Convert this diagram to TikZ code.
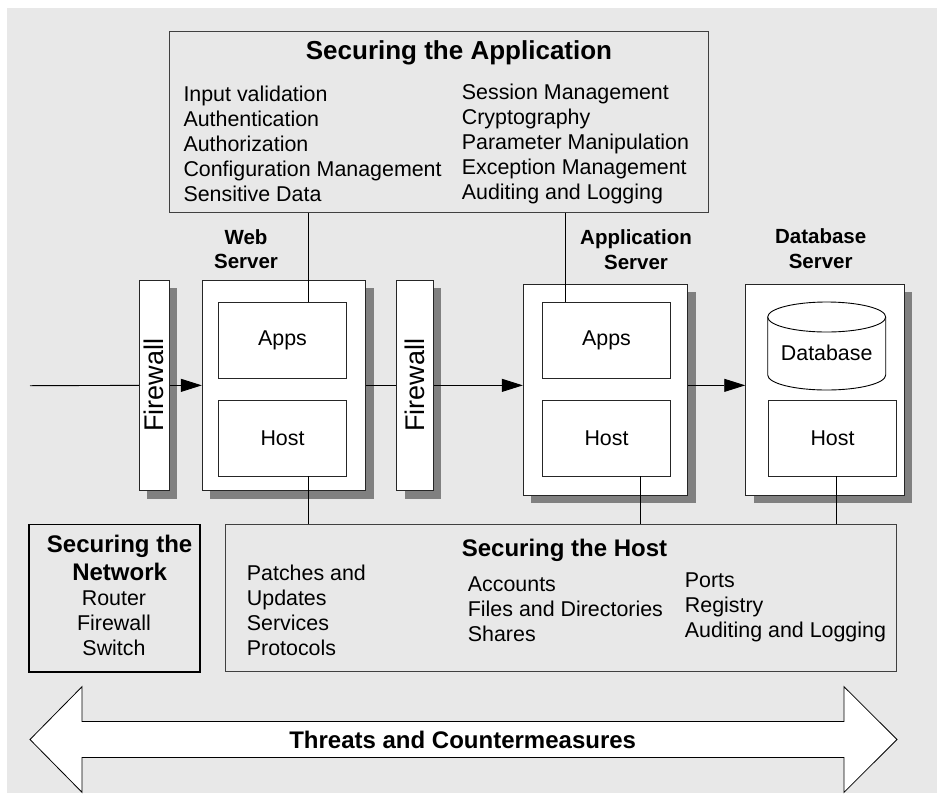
\documentclass[tikz,border=0pt]{standalone}
\usepackage{fontspec}
\setmainfont{Liberation Sans}
\usetikzlibrary{arrows.meta,shadows}
\definecolor{panelgray}{HTML}{E8E8E8}
\definecolor{shadowgray}{HTML}{808080}

\begin{document}
\begin{tikzpicture}[x=1pt, y=-1pt,
    box/.style={draw=black!85, line width=0.9pt, fill=white, inner sep=0pt},
    srvbox/.style={box, drop shadow={shadow xshift=8pt, shadow yshift=-8pt, fill=shadowgray, opacity=1}},
    secbox/.style={draw=black!75, line width=0.9pt, inner sep=0pt},
    txt/.style={font=\fontsize{21.4}{25}\selectfont, inner sep=0pt},
    ttl/.style={font=\fontsize{24}{27.6}\selectfont\bfseries, inner sep=0pt},
    srvlbl/.style={font=\fontsize{20.5}{24.7}\selectfont\bfseries, inner sep=0pt, align=center},
    wire/.style={line width=0.9pt},
    flow/.style={wire, -{Triangle[length=21pt, width=13pt]}}]

    \useasboundingbox (0,0) rectangle (937,793);
    \fill[panelgray] (7,8) rectangle (937,793);

    % the three areas
    \node[secbox, minimum width=539pt, minimum height=180.6pt] (appsec) at (438.8,122) {};
    \node[secbox, minimum width=670.9pt, minimum height=147.3pt] (hostsec) at (561.15,598.15) {};
    \node[draw=black, line width=1.8pt, minimum width=170.7pt, minimum height=147.8pt] (netsec) at (114.65,598.4) {};

    % firewalls and servers
    \node[srvbox, minimum width=30pt, minimum height=210.7pt] (fw1) at (154.3,385.35) {};
    \node[srvbox, minimum width=163.4pt, minimum height=210.7pt] (web) at (284,385.35) {};
    \node[srvbox, minimum width=36.8pt, minimum height=210.7pt] (fw2) at (414.9,385.35) {};
    \node[srvbox, minimum width=164.4pt, minimum height=211pt] (app) at (605.5,389.5) {};
    \node[srvbox, minimum width=158.6pt, minimum height=211pt] (dbsrv) at (825,389.5) {};

    \node[box, txt, minimum width=128.4pt, minimum height=75.7pt] (webapps) at (282.5,340.15) {Apps};
    \node[box, txt, minimum width=128.4pt, minimum height=75.7pt] (webhost) at (282.5,438.15) {Host};
    \node[box, txt, minimum width=128.4pt, minimum height=75.7pt] (appapps) at (606.5,340.15) {Apps};
    \node[box, txt, minimum width=128.4pt, minimum height=75.7pt] (apphost) at (606.5,438.15) {Host};
    \node[box, txt, minimum width=128.4pt, minimum height=75.7pt] (dbhost) at (832.5,438.15) {Host};

    % database drum
    \draw[wire, fill=white] (767.7,317) -- (767.7,375) arc[start angle=180, end angle=0, x radius=59, y radius=15] -- (885.7,317);
    \draw[wire, fill=white] (826.7,317) ellipse [x radius=59, y radius=15];
    \node[txt] (db) at (826.7,353.3) {Database};

    \node[inner sep=0pt, rotate=90, font=\fontsize{27}{30}\selectfont] (fw1txt) at (fw1) {Firewall};
    \node[inner sep=0pt, rotate=90, font=\fontsize{27}{30}\selectfont] (fw2txt) at (fw2) {Firewall};

    \node[srvlbl] (weblbl) at (246,249.3) {Web\\Server};
    \node[srvlbl] (applbl) at (636,249.5) {Application\\Server};
    \node[srvlbl] (dblbl) at (820.7,248.9) {Database\\Server};

    % connectors
    \coordinate (inlet) at (30,385.7);
    \coordinate (webtap) at (308.3,0);
    \coordinate (apptap) at (565,0);
    \coordinate (apphosttap) at (640.3,0);
    \coordinate (dbhosttap) at (836,0);

    \draw[wire] (inlet) -- (fw1.west);
    \draw[flow] (fw1.east) -- (web.west);
    \draw[wire] (web.east) -- (fw2.west);
    \draw[flow] (fw2.east) -- (fw2.east -| app.west);
    \draw[flow] (fw2.east -| app.east) -- (fw2.east -| dbsrv.west);

    \draw[wire] (webtap |- appsec.south) -- (webtap |- webapps.north);
    \draw[wire] (apptap |- appsec.south) -- (apptap |- appapps.north);
    \draw[wire] (webtap |- webhost.south) -- (webtap |- hostsec.north);
    \draw[wire] (apphosttap |- apphost.south) -- (apphosttap |- hostsec.north);
    \draw[wire] (dbhosttap |- dbhost.south) -- (dbhosttap |- hostsec.north);

    % securing the application
    \node[inner sep=0pt, font=\fontsize{26}{30}\selectfont\bfseries] (apptitle) at (459,53.3) {Securing the Application};
    \node[txt, anchor=west, align=left] (appleft) at (183.3,144) {Input validation\\Authentication\\Authorization\\Configuration Management\\Sensitive Data};
    \node[txt, anchor=west, align=left] (appright) at (461.7,144) {Session Management\\Cryptography\\Parameter Manipulation\\Exception Management\\Auditing and Logging};

    % securing the host
    \node[ttl] (hosttitle) at (564.5,550.7) {Securing the Host};
    \node[txt, anchor=west, align=left] (hostcola) at (246.7,610.5) {Patches and\\Updates\\Services\\Protocols};
    \node[txt, anchor=west, align=left] (hostcolb) at (467.7,609.5) {Accounts\\Files and Directories\\Shares};
    \node[txt, anchor=west, align=left] (hostcolc) at (684.7,607.4) {Ports\\Registry\\Auditing and Logging};

    % securing the network
    \node[ttl, align=center] (nettitle) at (119.6,557.9) {Securing the\\Network};
    \node[txt, align=center] (netitems) at (114,623.3) {Router\\Firewall\\Switch};

    % threats band
    \draw[wire, line width=0.8pt, fill=white] (30,739.5) -- (82,686.7) -- (82,721.5) -- (844,721.5) -- (844,686.7) -- (897,739.5)
        -- (844,792.3) -- (844,757.5) -- (82,757.5) -- (82,792.3) -- cycle;
    \node[ttl] (threats) at (462.7,739.5) {Threats and Countermeasures};
\end{tikzpicture}
\end{document}
